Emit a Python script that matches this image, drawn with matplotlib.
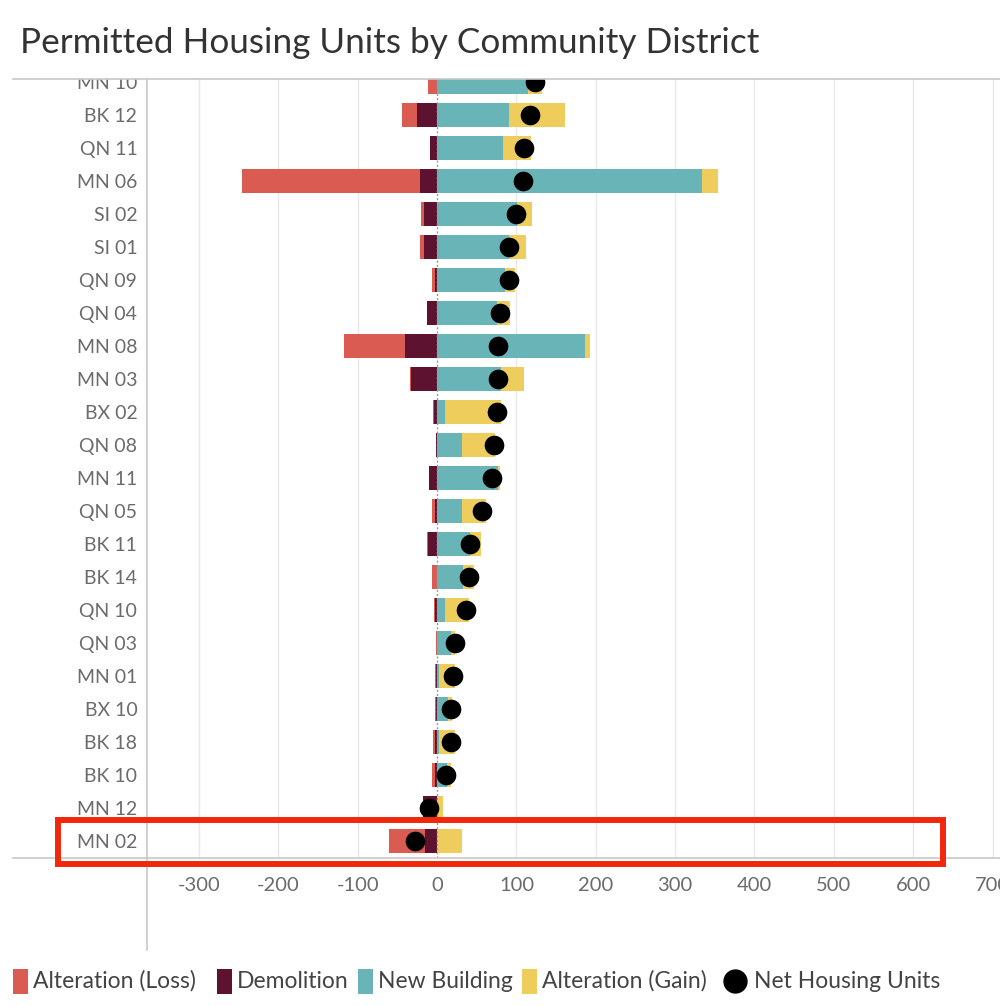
import numpy as np
import matplotlib
matplotlib.use("Agg")
import matplotlib.pyplot as plt
from matplotlib.patches import Rectangle
from matplotlib.lines import Line2D

plt.rcParams['font.family'] = ['Lato', 'DejaVu Sans']

# community districts, top to bottom
districts = ["MN 10", "BK 12", "QN 11", "MN 06", "SI 02", "SI 01", "QN 09", "QN 04",
             "MN 08", "MN 03", "BX 02", "QN 08", "MN 11", "QN 05", "BK 11", "BK 14",
             "QN 10", "QN 03", "MN 01", "BX 10", "BK 18", "BK 10", "MN 12", "MN 02"]
alt_loss = [-11, -19, 0, -224, -4, -6, -4, 0, -77, -1, -1, 0, 0, -3, -1, -7,
            -1, -2, -2, -2, -2, -3, 0, -45]
demolition = [0, -25, -9, -22, -16, -16, -3, -13, -40, -33, -4, -2, -10, -3, -12, 0,
              -3, 0, -1, -1, -3, -3, -18, -15]
new_building = [115, 90, 83, 334, 101, 91, 85, 75, 187, 80, 10, 31, 77, 31, 41, 33,
                10, 18, 2, 14, 3, 13, 0, 0]
alt_gain = [17, 71, 35, 20, 19, 21, 13, 17, 6, 30, 71, 42, 2, 30, 14, 14,
            30, 5, 20, 5, 19, 4, 8, 31]
net_units = [123, 117, 109, 108, 100, 90, 91, 79, 77, 77, 76, 72, 69, 57, 42, 40,
             36, 22, 20, 17, 17, 11, -10, -28]
x_ticks = [-300, -200, -100, 0, 100, 200, 300, 400, 500, 600, 700]

c_loss = "#d95b51"
c_demo = "#5d1330"
c_new = "#68b4b6"
c_gain = "#efcd5d"
grey_txt = "#6b6b6b"

fig = plt.figure(figsize=(10, 10.06), dpi=100)
ax = fig.add_axes([0.147, 0.1474, 0.863, 0.7738])

y = np.arange(len(districts))
demo = np.array(demolition)
loss = np.array(alt_loss)
new = np.array(new_building)
gain = np.array(alt_gain)
h = 0.73

ax.barh(y, demo, height=h, color=c_demo, zorder=2)
ax.barh(y, loss, left=demo, height=h, color=c_loss, zorder=2)
ax.barh(y, new, height=h, color=c_new, zorder=2)
ax.barh(y, gain, left=new, height=h, color=c_gain, zorder=2)
ax.scatter(net_units, y, s=200, color="black", zorder=4, linewidths=0)

ax.set_xlim(-365.6, 722)
ax.set_ylim(23.5, -0.07)
ax.set_yticks(y)
ax.set_yticklabels(districts)
ax.set_xticks(x_ticks)
ax.set_xticklabels([str(t) for t in x_ticks])
ax.tick_params(axis="y", length=0, pad=7, labelsize=14, labelcolor=grey_txt)
ax.tick_params(axis="x", length=0, pad=14, labelsize=14.5, labelcolor=grey_txt)

for t in x_ticks:
    if t == 0:
        ax.axvline(t, color="#9a9a9a", lw=1, ls=(0, (1.5, 1.5)), zorder=3)
    else:
        ax.axvline(t, color="#e8e8e8", lw=1, zorder=1)

for s in ax.spines.values():
    s.set_visible(False)

# frame lines like the dashboard
fig.add_artist(Line2D([0.013, 1.0], [1 - 79.3 / 1006] * 2, color="#c8c8c8", lw=1.2, zorder=6))
fig.add_artist(Line2D([0.013, 1.0], [1 - 857.7 / 1006] * 2, color="#c8c8c8", lw=1.2, zorder=6))
fig.add_artist(Line2D([0.147, 0.147], [1 - 79.3 / 1006, 1 - 950 / 1006], color="#c8c8c8", lw=1.2, zorder=6))
# hide top part of the cut-off first row label
fig.add_artist(Rectangle((0, 1 - 78.5 / 1006), 0.146, 16 / 1006, transform=fig.transFigure,
                         facecolor="white", edgecolor="none", zorder=5))

fig.text(0.020, 1 - 43 / 1006, "Permitted Housing Units by Community District",
         fontsize=25.3, color="#333333", va="center", ha="left")

# highlight box
fig.add_artist(Rectangle((0.058, 1 - 864 / 1006), 0.885, 44 / 1006, transform=fig.transFigure,
                         facecolor="none", edgecolor="#f2280d", lw=4.3, zorder=7))

# legend
ly = 1 - 981 / 1006
items = [("Alteration (Loss)", c_loss, 0.013), ("Demolition", c_demo, 0.217),
         ("New Building", c_new, 0.358), ("Alteration (Gain)", c_gain, 0.522)]
for label, col, lx in items:
    fig.add_artist(Rectangle((lx, ly - 12.5 / 1006), 0.015, 25 / 1006, transform=fig.transFigure,
                             facecolor=col, edgecolor="none"))
    fig.text(lx + 0.02, ly, label, fontsize=16.5, color="#444444", va="center", ha="left")
fig.add_artist(Line2D([0.735], [ly], marker="o", markersize=16.5, color="black", lw=0))
fig.text(0.754, ly, "Net Housing Units", fontsize=16.5, color="#444444", va="center", ha="left")

fig.savefig("out.png", dpi=100)
